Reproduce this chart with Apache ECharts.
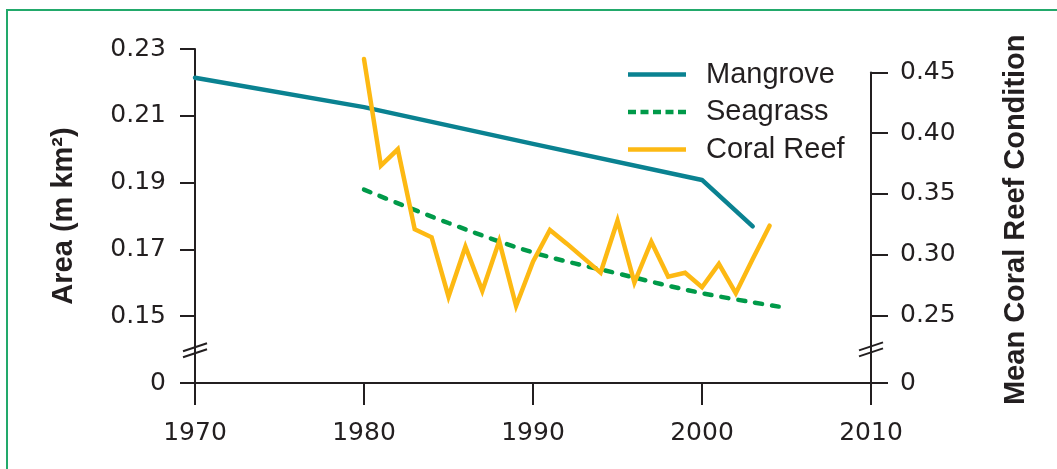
<!DOCTYPE html>
<html><head><meta charset="utf-8">
<script src="https://cdn.jsdelivr.net/npm/echarts@6/dist/echarts.min.js"></script>
<style>html,body{margin:0;padding:0;background:#fff}#c{width:1057px;height:469px}</style>
</head><body><div id="c"></div>
<script>
// ---- data ----
const mangroveYears = [1970, 1980, 1990, 2000, 2003];
const mangroveArea = [0.2214, 0.2126, 0.2016, 0.1908, 0.1769];
const seagrassYears = [1980, 1985, 1990, 1995, 2000, 2005];
const seagrassArea = [0.1879, 0.1779, 0.1691, 0.1628, 0.1569, 0.1525];
const coralYears = [1980,1981,1982,1983,1984,1985,1986,1987,1988,1989,1990,1991,1992,1993,1994,1995,1996,1997,1998,1999,2000,2001,2002,2003,2004];
const coralCondition = [0.4611,0.3733,0.3868,0.3210,0.3144,0.2655,0.3066,0.2702,0.3113,0.2578,0.2943,0.3204,0.3091,0.2972,0.2852,0.3280,0.2770,0.3107,0.2819,0.2852,0.2732,0.2924,0.2683,0.2965,0.3239];
const xTicks = [1970, 1980, 1990, 2000, 2010];
const leftTicks = [0.13, 0.15, 0.17, 0.19, 0.21, 0.23];   // lowest tick sits below the axis break, labelled "0"
const rightTicks = [0.1944, 0.25, 0.30, 0.35, 0.40, 0.45]; // lowest tick sits below the axis break, labelled "0"
const seriesNames = ['Mangrove', 'Seagrass', 'Coral Reef'];

const INK = '#231f20';
const C_MANG = '#0a8291', C_SEA = '#009a49', C_CORAL = '#fdb913';
const tickFont = { fontFamily: 'DejaVu Sans', fontSize: 25, color: INK };
const nameFont = { fontFamily: 'Liberation Sans', fontWeight: 'bold', fontSize: 29, color: INK };

const zip = (xs, ys) => xs.map((x, i) => [x, ys[i]]);

// legend glyphs: a solid bar and a dashed bar (stretched to itemWidth x itemHeight)
const ICON_SOLID = 'path://M0,0H58V4.5H0Z';
const ICON_DASH = 'path://M0,0H8V4.5H0Z M12.5,0H20.5V4.5H12.5Z M25,0H33V4.5H25Z M37.5,0H45.5V4.5H37.5Z M50,0H58V4.5H50Z';

const chart = echarts.init(document.getElementById('c'), null, { renderer: 'canvas' });
const option = {
  animation: false,
  backgroundColor: '#ffffff',
  grid: [
    { left: 195, right: 186, top: 49, bottom: 86 },
    { left: 195, right: 186, top: 72.5, bottom: 86 }
  ],
  legend: {
    orient: 'vertical', left: 623, top: 55,
    itemWidth: 58, itemHeight: 4.5, itemGap: 8.5,
    data: [
      { name: seriesNames[0], icon: ICON_SOLID },
      { name: seriesNames[1], icon: ICON_DASH },
      { name: seriesNames[2], icon: ICON_SOLID }
    ],
    textStyle: { fontFamily: 'Liberation Sans', fontSize: 29, color: INK, padding: [0, 0, 0, 15] }
  },
  xAxis: [
    {
      type: 'value', gridIndex: 0, min: xTicks[0], max: xTicks[xTicks.length - 1], interval: 10,
      axisLine: { show: true, onZero: false, lineStyle: { color: INK, width: 2 } },
      axisTick: { show: true, inside: false, length: 22, lineStyle: { color: INK, width: 2 } },
      axisLabel: Object.assign({ margin: 38, formatter: v => String(v) }, tickFont),
      splitLine: { show: false }
    },
    { type: 'value', gridIndex: 1, min: xTicks[0], max: xTicks[xTicks.length - 1], show: false }
  ],
  yAxis: [
    {
      type: 'value', gridIndex: 0, position: 'left', min: 0.13, max: 0.23,
      name: 'Area (m km²)', nameLocation: 'middle', nameGap: 117, nameRotate: 90,
      nameTextStyle: nameFont,
      axisLine: { show: true, onZero: false, lineStyle: { color: INK, width: 2 } },
      axisTick: { show: true, inside: false, length: 15, customValues: leftTicks, lineStyle: { color: INK, width: 2 } },
      axisLabel: Object.assign({ margin: 29, customValues: leftTicks, formatter: v => v < 0.14 ? '0' : v.toFixed(2) }, tickFont),
      splitLine: { show: false }
    },
    {
      type: 'value', gridIndex: 1, position: 'right', min: rightTicks[0], max: 0.45,
      name: 'Mean Coral Reef Condition', nameLocation: 'middle', nameGap: 130, nameRotate: 90,
      nameTextStyle: Object.assign({ padding: [0, 0, 0, 16] }, nameFont),
      axisLine: { show: true, onZero: false, lineStyle: { color: INK, width: 2 } },
      axisTick: { show: true, inside: false, length: 17, customValues: rightTicks, lineStyle: { color: INK, width: 2 } },
      axisLabel: Object.assign({ margin: 29, customValues: rightTicks, formatter: v => v < 0.2 ? '0' : v.toFixed(2) }, tickFont),
      splitLine: { show: false }
    }
  ],
  series: [
    {
      name: seriesNames[0], type: 'line', xAxisIndex: 0, yAxisIndex: 0, z: 2,
      data: zip(mangroveYears, mangroveArea), symbol: 'none', clip: false,
      lineStyle: { color: C_MANG, width: 4.5, cap: 'round', join: 'round' },
      itemStyle: { color: C_MANG }
    },
    {
      name: seriesNames[1], type: 'line', xAxisIndex: 0, yAxisIndex: 0, z: 3,
      data: zip(seagrassYears, seagrassArea), symbol: 'none', smooth: 0.35, clip: false,
      lineStyle: { color: C_SEA, width: 4.5, type: [7, 10], cap: 'round' },
      itemStyle: { color: C_SEA }
    },
    {
      name: seriesNames[2], type: 'line', xAxisIndex: 1, yAxisIndex: 1, z: 4,
      data: zip(coralYears, coralCondition), symbol: 'none', clip: false,
      lineStyle: { color: C_CORAL, width: 4.5, cap: 'round', join: 'miter' },
      itemStyle: { color: C_CORAL }
    }
  ]
};
chart.setOption(option);

// axis-break marks and the green frame
function breakMark(px, py) {
  return [0, 1].map(k => ({
    type: 'line', z: 100,
    shape: { x1: px - 12, y1: py + 4 + k * 6, x2: px + 12, y2: py - 4 + k * 6 },
    style: { stroke: INK, lineWidth: 2 }
  }));
}
const lb = chart.convertToPixel({ xAxisIndex: 0, yAxisIndex: 0 }, [1970, 0.1398]);
const rb = chart.convertToPixel({ xAxisIndex: 1, yAxisIndex: 1 }, [2010, 0.2221]);
chart.setOption({
  graphic: [
    { type: 'polyline', shape: { points: [[7, 469], [7, 10], [1057, 10]] }, style: { stroke: '#22a96b', lineWidth: 2, fill: null } }
  ].concat(breakMark(lb[0], lb[1] - 3)).concat(breakMark(rb[0], rb[1] - 3))
});
</script></body></html>
